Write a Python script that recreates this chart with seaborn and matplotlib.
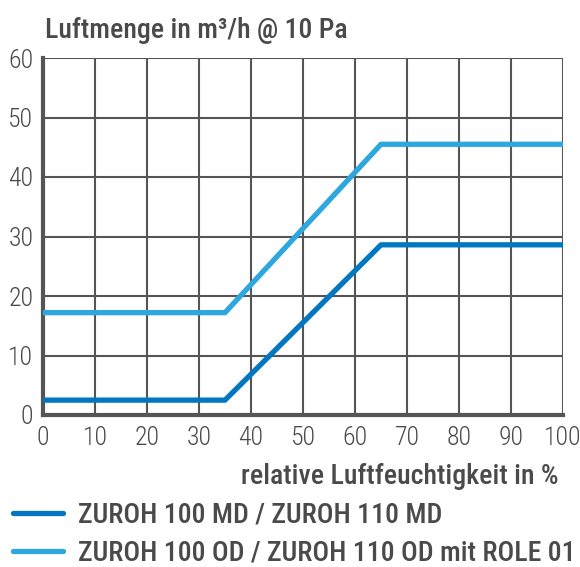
import matplotlib
matplotlib.use("Agg")
import matplotlib.pyplot as plt
import numpy as np
import pandas as pd
import seaborn as sns

# relative humidity (%) and airflow (m3/h @ 10 Pa)
humidity = [0, 35, 65, 100]
flow_md = [2.5, 2.5, 28.6, 28.6]
flow_od = [17.2, 17.2, 45.5, 45.5]

LABELS = [
    "ZUROH 100 MD / ZUROH 110 MD",
    "ZUROH 100 OD / ZUROH 110 OD mit ROLE 01",
]
COLORS = ["#0077c0", "#2ea6df"]
TEXT = "#4a4a4a"
GRID = "#555555"

df = pd.DataFrame({
    "humidity": humidity * 2,
    "flow": flow_md + flow_od,
    "series": [LABELS[0]] * len(humidity) + [LABELS[1]] * len(humidity),
})

sns.set_style("white")
plt.rcParams["font.family"] = ["Roboto Condensed", "Liberation Sans Narrow", "DejaVu Sans"]

fig = plt.figure(figsize=(5.8, 5.67), dpi=100)
ax = fig.add_axes([43 / 580, 1 - 415 / 567, 520 / 580, 357 / 567])

sns.lineplot(data=df, x="humidity", y="flow", hue="series", palette=COLORS,
             linewidth=3.8, ax=ax, legend=False, zorder=3)

ax.set_xlim(0, 100)
ax.set_ylim(0, 60)
ax.set_xticks(np.arange(0, 101, 10))
ax.set_yticks(np.arange(0, 61, 10))
ax.grid(True, color=GRID, linewidth=1.5)
ax.tick_params(axis="both", length=0, labelsize=18.5, labelcolor=TEXT)
ax.tick_params(axis="x", pad=8)
ax.tick_params(axis="y", pad=7)
for lbl in ax.get_xticklabels() + ax.get_yticklabels():
    lbl.set_fontweight(300)
for side in ["top", "right"]:
    ax.spines[side].set_visible(False)
for side in ["left", "bottom"]:
    ax.spines[side].set_color(GRID)
    ax.spines[side].set_linewidth(3)
ax.set_xlabel("")
ax.set_ylabel("")

fig.text(45 / 580, 1 - 38 / 567, "Luftmenge in m³/h @ 10 Pa", fontsize=20,
         fontweight=500, color=TEXT, ha="left", va="baseline")
fig.text(559 / 580, 1 - 484 / 567, "relative Luftfeuchtigkeit in %", fontsize=20,
         fontweight=500, color=TEXT, ha="right", va="baseline")

handles = ax.get_lines()[:2]
for h in handles:
    h.set_solid_capstyle("round")
leg = fig.legend(handles, LABELS, loc="lower left", bbox_to_anchor=(13 / 580, 0.0),
                 frameon=False, fontsize=20, labelcolor=TEXT, handlelength=1.8,
                 handletextpad=0.55, labelspacing=0.4, borderpad=0, borderaxespad=0)
for t in leg.get_texts():
    t.set_fontweight(500)

fig.savefig("out.png", dpi=100)
